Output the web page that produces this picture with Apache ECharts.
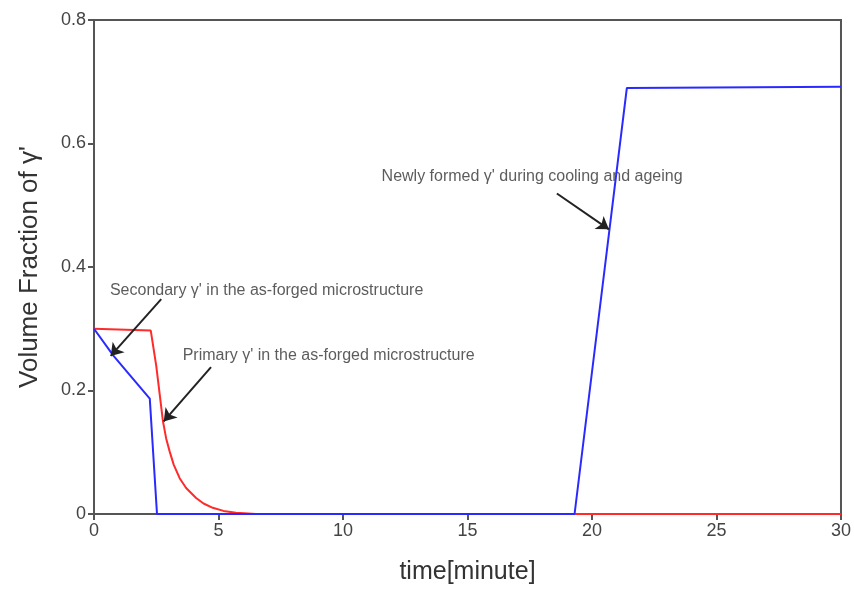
<!DOCTYPE html>
<html>
<head>
    <meta charset="utf-8">
    <title>Volume Fraction</title>
    <script src="https://cdn.jsdelivr.net/npm/echarts@6/dist/echarts.min.js"></script>
</head>
<body style="margin:0">
<div id="main" style="width: 854px;height: 590px;"></div>
<script type="text/javascript">
    // values: [time (minute), volume fraction]
    var secondaryData = [[0, 0.30], [0.77, 0.257], [1.44, 0.225], [2.24, 0.187], [2.3, 0.185],
        [2.53, 0], [19.3, 0], [21.4, 0.69], [30, 0.692]];
    var primaryData = [[0, 0.30], [2.28, 0.297], [2.5, 0.24], [2.77, 0.15], [2.9, 0.122],
        [3.04, 0.101], [3.2, 0.08], [3.44, 0.058], [3.7, 0.042], [4.10, 0.026], [4.4, 0.017],
        [4.77, 0.01], [5.2, 0.005], [5.7, 0.002], [6.5, 0], [30, 0]];
    var xTicks = [0, 5, 10, 15, 20, 25, 30];
    var yTicks = [0, 0.2, 0.4, 0.6, 0.8];

    // annotation text anchors and arrows (start -> head), data coords
    var noteTexts = ["Secondary γ' in the as-forged microstructure",
        "Primary γ' in the as-forged microstructure",
        "Newly formed γ' during cooling and ageing"];
    var notePos = [[0.64, 0.362], [3.56, 0.257], [11.55, 0.547]];
    var arrowFrom = [[2.70, 0.348], [4.70, 0.238], [18.59, 0.519]];
    var arrowTo = [[0.67, 0.256], [2.80, 0.150], [20.68, 0.461]];

    var chart = echarts.init(document.getElementById('main'));

    var arrowLines = [];
    for (var i = 0; i < arrowFrom.length; i++) {
        arrowLines.push([{coord: arrowFrom[i]}, {coord: arrowTo[i]}]);
    }
    var noteData = [];
    for (var j = 0; j < notePos.length; j++) {
        noteData.push({value: notePos[j], label: {formatter: noteTexts[j]}});
    }

    var option = {
        animation: false,
        backgroundColor: '#fff',
        textStyle: {fontFamily: 'Liberation Sans'},
        grid: {
            left: 94, right: 8, top: 20, bottom: 72,
            show: true, borderColor: '#555', borderWidth: 2
        },
        xAxis: {
            type: 'value',
            min: 0, max: 30, interval: 5,
            name: 'time[minute]',
            nameLocation: 'middle',
            nameGap: 46,
            nameTextStyle: {fontSize: 25, color: '#333'},
            axisLine: {lineStyle: {color: '#555', width: 2}},
            axisTick: {show: true, length: 6, lineStyle: {color: '#555', width: 2}},
            axisLabel: {fontSize: 18, color: '#444', margin: 8},
            splitLine: {show: false}
        },
        yAxis: {
            type: 'value',
            min: 0, max: 0.8, interval: 0.2,
            name: "Volume Fraction of γ'",
            nameLocation: 'middle',
            nameGap: 51,
            nameTextStyle: {fontSize: 26, color: '#333'},
            axisLine: {show: true, lineStyle: {color: '#555', width: 2}},
            axisTick: {show: true, length: 6, lineStyle: {color: '#555', width: 2}},
            axisLabel: {
                fontSize: 18, color: '#444', margin: 8,
                formatter: function (v) { return v === 0 ? '0' : v.toFixed(1); }
            },
            splitLine: {show: false}
        },
        series: [{
            name: 'primary',
            type: 'line',
            showSymbol: false,
            lineStyle: {color: '#ff2a2a', width: 2},
            data: primaryData
        }, {
            name: 'secondary',
            type: 'line',
            showSymbol: false,
            lineStyle: {color: '#2a2aff', width: 2},
            data: secondaryData,
            markLine: {
                silent: true,
                symbol: ['none', 'arrow'],
                symbolSize: 12,
                label: {show: false},
                lineStyle: {color: '#222', width: 2, type: 'solid'},
                data: arrowLines
            }
        }, {
            name: 'notes',
            type: 'scatter',
            symbolSize: 0,
            silent: true,
            label: {
                show: true,
                position: 'right',
                distance: 0,
                fontSize: 16,
                color: '#333'
            },
            data: noteData
        }]
    };
    chart.setOption(option);
</script>
</body>
</html>
